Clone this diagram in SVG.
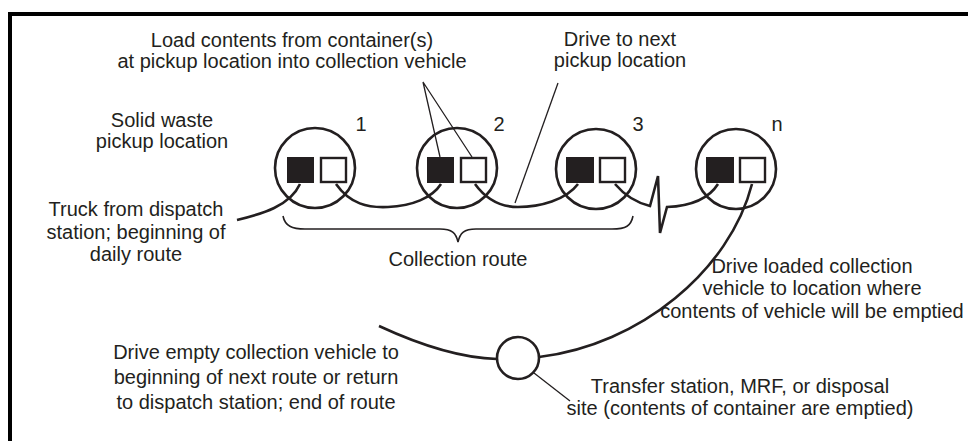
<svg xmlns="http://www.w3.org/2000/svg" width="968" height="441" viewBox="0 0 968 441">
  <style>
    .lbl { font-family: "Liberation Sans", Arial, Helvetica, sans-serif; font-size: 20px; fill: #231f20; text-anchor: middle; }
    .ring { fill: none; stroke: #231f20; stroke-width: 2.6; }
    .stop { fill: #fff; stroke: #231f20; stroke-width: 2.6; }
    .full { fill: #231f20; stroke: #231f20; stroke-width: 1; }
    .empty { fill: #fff; stroke: #231f20; stroke-width: 2.4; }
    .route { fill: none; stroke: #231f20; stroke-width: 2.6; stroke-linejoin: miter; }
    .lead { fill: none; stroke: #231f20; stroke-width: 1.3; }
    .brace { fill: none; stroke: #231f20; stroke-width: 1.6; }
  </style>

  <rect width="968" height="441" fill="#fff"/>
  <!-- frame: top and left rules -->
  <path d="M10,441 V14 H968" fill="none" stroke="#000" stroke-width="4"/>

  <!-- route lines, leaders and brace -->
  <g id="connectors">
    <path class="route" d="M237,220 C262,214 290,206 300,184"/>
    <path class="route" d="M336,184 C350,204 368,208 388,207 C412,206 432,198 441,184"/>
    <path class="route" d="M475,184 C488,202 503,207 518,207 C540,207 566,200 578,184"/>
    <path class="route" d="M615,184 C626,197 638,203 650,206 L658,176 L660,233 L667,207 C690,206 708,200 718,184"/>
    <path class="route" d="M752,184 C730,270 640,345 539,357"/>
    <path class="route" d="M379,326 C420,345 460,358 497,359"/>
    <path class="lead" d="M423,82 L440,157 M423,82 L472,157"/>
    <path class="lead" d="M558,83 L515,203"/>
    <path class="lead" d="M534,373 L570,401"/>
    <path class="brace" d="M283,216 C285,226 292,229 305,229 L440,229 C452,229 456,233 458,242 C460,233 464,229 476,229 L612,229 C626,229 631,226 633,216"/>
  </g>

  <g id="pickup-1">
    <circle class="ring" cx="315" cy="168" r="40"/>
    <rect class="full" x="287.5" y="157.5" width="26" height="25"/>
    <rect class="empty" x="321" y="158" width="25" height="24"/>
    <text class="lbl" x="361" y="131">1</text>
  </g>
  <g id="pickup-2">
    <circle class="ring" cx="457" cy="168" r="40"/>
    <rect class="full" x="427.5" y="157.5" width="26" height="25"/>
    <rect class="empty" x="461" y="158" width="25" height="24"/>
    <text class="lbl" x="499" y="131">2</text>
  </g>
  <g id="pickup-3">
    <circle class="ring" cx="596" cy="169" r="40"/>
    <rect class="full" x="566.5" y="157.5" width="27" height="25"/>
    <rect class="empty" x="600" y="158" width="25" height="24"/>
    <text class="lbl" x="638" y="131">3</text>
  </g>
  <g id="pickup-n">
    <circle class="ring" cx="736" cy="169" r="40"/>
    <rect class="full" x="706.5" y="157.5" width="27" height="25"/>
    <rect class="empty" x="740" y="158" width="25" height="24"/>
    <text class="lbl" x="777" y="131">n</text>
  </g>
  <g id="transfer-station">
    <circle class="stop" cx="518" cy="358" r="21"/>
  </g>

  <g id="label-load">
    <text class="lbl" x="292" y="47">Load contents from container(s)</text>
    <text class="lbl" x="292" y="68">at pickup location into collection vehicle</text>
  </g>
  <g id="label-drive-next">
    <text class="lbl" x="620" y="46">Drive to next</text>
    <text class="lbl" x="620" y="67">pickup location</text>
  </g>
  <g id="label-pickup">
    <text class="lbl" x="162" y="127">Solid waste</text>
    <text class="lbl" x="162" y="148">pickup location</text>
  </g>
  <g id="label-truck">
    <text class="lbl" x="136" y="216">Truck from dispatch</text>
    <text class="lbl" x="136" y="239">station; beginning of</text>
    <text class="lbl" x="136" y="261">daily route</text>
  </g>
  <g id="label-route">
    <text class="lbl" x="458" y="266">Collection route</text>
  </g>
  <g id="label-drive-loaded">
    <text class="lbl" x="812" y="273">Drive loaded collection</text>
    <text class="lbl" x="812" y="295">vehicle to location where</text>
    <text class="lbl" x="812" y="318">contents of vehicle will be emptied</text>
  </g>
  <g id="label-drive-empty">
    <text class="lbl" x="256" y="359">Drive empty collection vehicle to</text>
    <text class="lbl" x="256" y="384">beginning of next route or return</text>
    <text class="lbl" x="256" y="409">to dispatch station; end of route</text>
  </g>
  <g id="label-transfer">
    <text class="lbl" x="740" y="393">Transfer station, MRF, or disposal</text>
    <text class="lbl" x="740" y="415">site (contents of container are emptied)</text>
  </g>
</svg>
